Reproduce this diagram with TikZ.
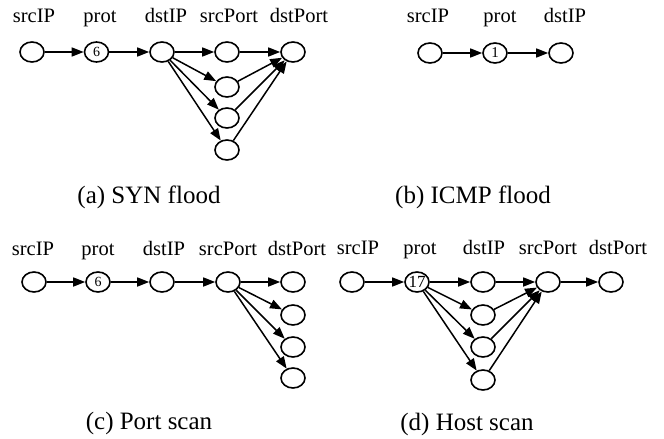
\documentclass[tikz,border=0pt]{standalone}
\usepackage{fontspec}
\setmainfont{Liberation Serif}
\usetikzlibrary{arrows.meta,shapes.geometric}
\begin{document}
\begin{tikzpicture}[x=1pt,y=-1pt,
  vtx/.style={draw,ellipse,line width=1.6pt,inner sep=0pt,
    minimum width=24pt,minimum height=20pt},
  num/.style={font=\fontsize{#1}{#1}\selectfont},
  hdr/.style={anchor=base,font=\fontsize{20.5}{24}\selectfont},
  caption/.style={anchor=base,font=\fontsize{25}{30}\selectfont},
  arr/.style={line width=1.5pt,-{Triangle[length=12pt,width=9pt]}}]
\useasboundingbox (0,0) rectangle (664,439);

% ---------- (a) SYN flood ----------
\node[hdr] (ha1) at (34,23) {srcIP};
\node[hdr] (ha2) at (100,23) {prot};
\node[hdr] (ha3) at (166,23) {dstIP};
\node[hdr] (ha4) at (229,23) {srcPort};
\node[hdr] (ha5) at (299,23) {dstPort};
\node[vtx] (a1) at (32,52) {};
\node[vtx,num=14] (a2) at (96.5,52) {6};
\node[vtx] (a3) at (162,52) {};
\node[vtx] (a4) at (227,52) {};
\node[vtx] (a5) at (227,87) {};
\node[vtx] (a6) at (227,118) {};
\node[vtx] (a7) at (227,150) {};
\node[vtx] (a8) at (293,52) {};
\draw[arr] (a1) -- (a2);
\draw[arr] (a2) -- (a3);
\foreach \t in {a4,a5,a6,a7} {
  \draw[arr] (a3) -- (\t);
  \draw[arr] (\t) -- (a8);
}
\node[caption] (capa) at (149,203) {(a) SYN flood};

% ---------- (b) ICMP flood ----------
\node[hdr] (hb1) at (428,23) {srcIP};
\node[hdr] (hb2) at (500,23) {prot};
\node[hdr] (hb3) at (565,23) {dstIP};
\node[vtx] (b1) at (430,53) {};
\node[vtx,num=15] (b2) at (495,53) {1};
\node[vtx] (b3) at (561,53) {};
\draw[arr] (b1) -- (b2);
\draw[arr] (b2) -- (b3);
\node[caption] (capb) at (473,203) {(b) ICMP flood};

% ---------- (c) Port scan ----------
\node[hdr] (hc1) at (33,255) {srcIP};
\node[hdr] (hc2) at (98,255) {prot};
\node[hdr] (hc3) at (164,255) {dstIP};
\node[hdr] (hc4) at (228,255) {srcPort};
\node[hdr] (hc5) at (297,255) {dstPort};
\node[vtx] (c1) at (34,282) {};
\node[vtx,num=14] (c2) at (98,282) {6};
\node[vtx] (c3) at (162,282) {};
\node[vtx] (c4) at (228,282) {};
\node[vtx] (c5) at (293,282) {};
\node[vtx] (c6) at (293,315) {};
\node[vtx] (c7) at (293,347) {};
\node[vtx] (c8) at (293,378) {};
\draw[arr] (c1) -- (c2);
\draw[arr] (c2) -- (c3);
\draw[arr] (c3) -- (c4);
\foreach \t in {c5,c6,c7,c8} \draw[arr] (c4) -- (\t);
\node[caption] (capc) at (149,429) {(c) Port scan};

% ---------- (d) Host scan ----------
\node[hdr] (hd1) at (358,254) {srcIP};
\node[hdr] (hd2) at (420,254) {prot};
\node[hdr] (hd3) at (484,254) {dstIP};
\node[hdr] (hd4) at (548,254) {srcPort};
\node[hdr] (hd5) at (618,254) {dstPort};
\node[vtx] (d1) at (352,282) {};
\node[vtx,num=17] (d2) at (417,282) {17};
\node[vtx] (d3) at (483,282) {};
\node[vtx] (d4) at (483,315) {};
\node[vtx] (d5) at (483,347) {};
\node[vtx] (d6) at (483,380) {};
\node[vtx] (d7) at (548,282) {};
\node[vtx] (d8) at (611,282) {};
\draw[arr] (d1) -- (d2);
\foreach \t in {d3,d4,d5,d6} {
  \draw[arr] (d2) -- (\t);
  \draw[arr] (\t) -- (d7);
}
\draw[arr] (d7) -- (d8);
\node[caption] (capd) at (467,430) {(d) Host scan};
\end{tikzpicture}
\end{document}
